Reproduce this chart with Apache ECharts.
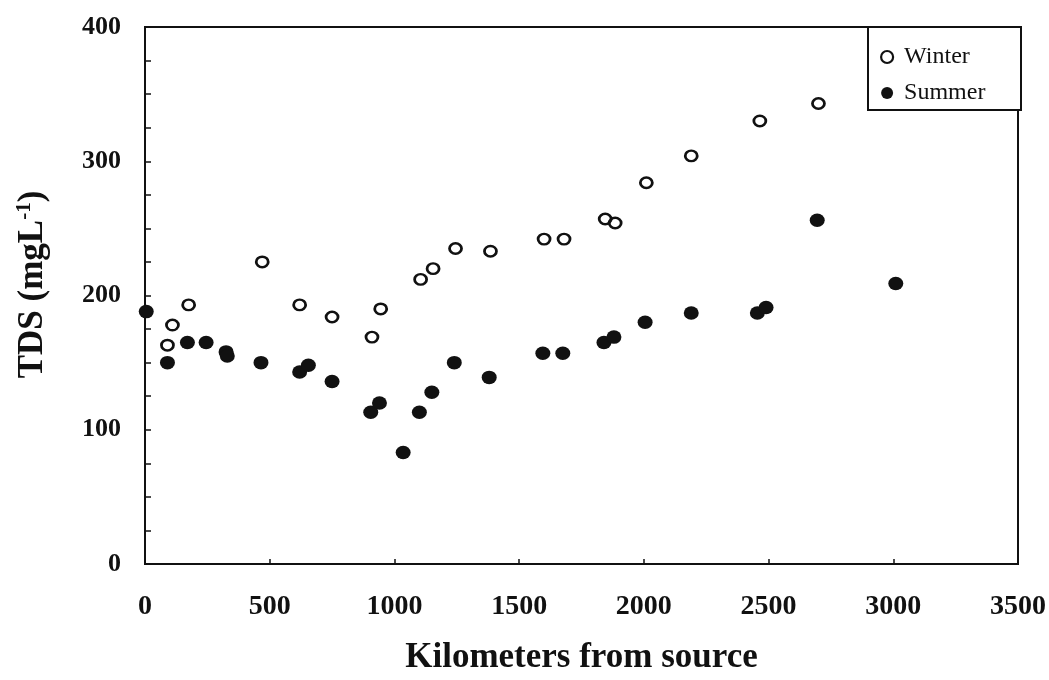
<!DOCTYPE html>
<html>
<head>
<meta charset="utf-8">
<script src="https://cdn.jsdelivr.net/npm/echarts@6/dist/echarts.min.js"></script>
<style>
  html, body { margin: 0; padding: 0; background: #fff; }
  #chart { width: 1049px; height: 680px; }
</style>
</head>
<body>
<div id="chart"></div>
<script>
// Total dissolved solids along the river, winter vs summer sampling
const winterKm  = [90, 110, 175, 470, 620, 750, 910, 945, 1105, 1155, 1245, 1385, 1600, 1680, 1845, 1885, 2010, 2190, 2465, 2700];
const winterTds = [163, 178, 193, 225, 193, 184, 169, 190, 212, 220, 235, 233, 242, 242, 257, 254, 284, 304, 330, 343];

const summerKm  = [5, 90, 170, 245, 325, 330, 465, 620, 655, 750, 905, 940, 1035, 1100, 1150, 1240, 1380, 1595, 1675, 1840, 1880, 2005, 2190, 2455, 2490, 2695, 3010];
const summerTds = [188, 150, 165, 165, 158, 155, 150, 143, 148, 136, 113, 120, 83, 113, 128, 150, 139, 157, 157, 165, 169, 180, 187, 187, 191, 256, 209];

const xTicks = [0, 500, 1000, 1500, 2000, 2500, 3000, 3500];
const yTicks = [0, 100, 200, 300, 400];

const INK = '#111';
const SERIF = '"Liberation Serif", "Times New Roman", serif';

const pairs = (xs, ys) => xs.map((x, i) => [x, ys[i]]);

const chart = echarts.init(document.getElementById('chart'));

chart.setOption({
  backgroundColor: '#fff',
  animation: false,
  grid: {
    left: 145, right: 31, top: 27, bottom: 112,
    show: true, borderColor: INK, borderWidth: 2, backgroundColor: 'transparent'
  },
  xAxis: {
    type: 'value',
    min: xTicks[0], max: xTicks[xTicks.length - 1], interval: 500,
    name: 'Kilometers from source',
    nameLocation: 'middle', nameGap: 76,
    nameTextStyle: { fontFamily: SERIF, fontWeight: 'bold', fontSize: 35, color: INK },
    axisLine: { show: true, lineStyle: { color: INK, width: 2 } },
    axisTick: { show: true, inside: true, length: 5, lineStyle: { color: INK, width: 1.5 } },
    splitLine: { show: false },
    axisLabel: {
      margin: 29, fontFamily: SERIF, fontWeight: 'bold', fontSize: 28, color: INK,
      formatter: v => xTicks.includes(v) ? String(v) : ''
    }
  },
  yAxis: {
    type: 'value',
    min: yTicks[0], max: yTicks[yTicks.length - 1], interval: 100,
    name: 'TDS (mgL{sup|-1})',
    nameLocation: 'middle', nameGap: 94, nameRotate: 90,
    nameTextStyle: {
      fontFamily: SERIF, fontWeight: 'bold', fontSize: 35, color: INK,
      padding: [0, 0, 0, 22],
      rich: {
        sup: { fontFamily: SERIF, fontWeight: 'bold', fontSize: 21, color: INK, verticalAlign: 'top', padding: [0, 0, 16, 0] }
      }
    },
    axisLine: { show: true, lineStyle: { color: INK, width: 2 } },
    axisTick: { show: true, inside: true, length: 6, lineStyle: { color: INK, width: 1.5 } },
    minorTick: { show: true, splitNumber: 4, length: 6, lineStyle: { color: INK, width: 1.5 } },
    splitLine: { show: false },
    minorSplitLine: { show: false },
    axisLabel: {
      margin: 24, fontFamily: SERIF, fontWeight: 'bold', fontSize: 26, color: INK,
      formatter: v => yTicks.includes(v) ? String(v) : ''
    }
  },
  legend: {
    orient: 'vertical',
    left: 880, top: 45,
    itemWidth: 12, itemHeight: 12, itemGap: 12,
    padding: 0,
    selectedMode: false,
    textStyle: { fontFamily: SERIF, fontSize: 24, color: INK, padding: [0, 0, 0, 6] },
    data: [
      { name: 'Winter', icon: 'circle', itemStyle: { color: '#fff', borderColor: INK, borderWidth: 2.2 } },
      { name: 'Summer', icon: 'circle', itemStyle: { color: INK, borderWidth: 0 } }
    ]
  },
  graphic: [{
    type: 'rect', z: 0,
    shape: { x: 868, y: 27, width: 153, height: 83 },
    style: { fill: '#fff', stroke: INK, lineWidth: 2 }
  }],
  series: [
    {
      name: 'Winter', type: 'scatter', z: 3,
      symbol: 'circle', symbolSize: [12, 10.5],
      itemStyle: { color: 'rgba(255,255,255,0)', borderColor: INK, borderWidth: 2.6, opacity: 1 },
      data: pairs(winterKm, winterTds)
    },
    {
      name: 'Summer', type: 'scatter', z: 4,
      symbol: 'circle', symbolSize: [15, 13.5],
      itemStyle: { color: INK, borderWidth: 0, opacity: 1 },
      data: pairs(summerKm, summerTds)
    }
  ]
});
</script>
</body>
</html>
